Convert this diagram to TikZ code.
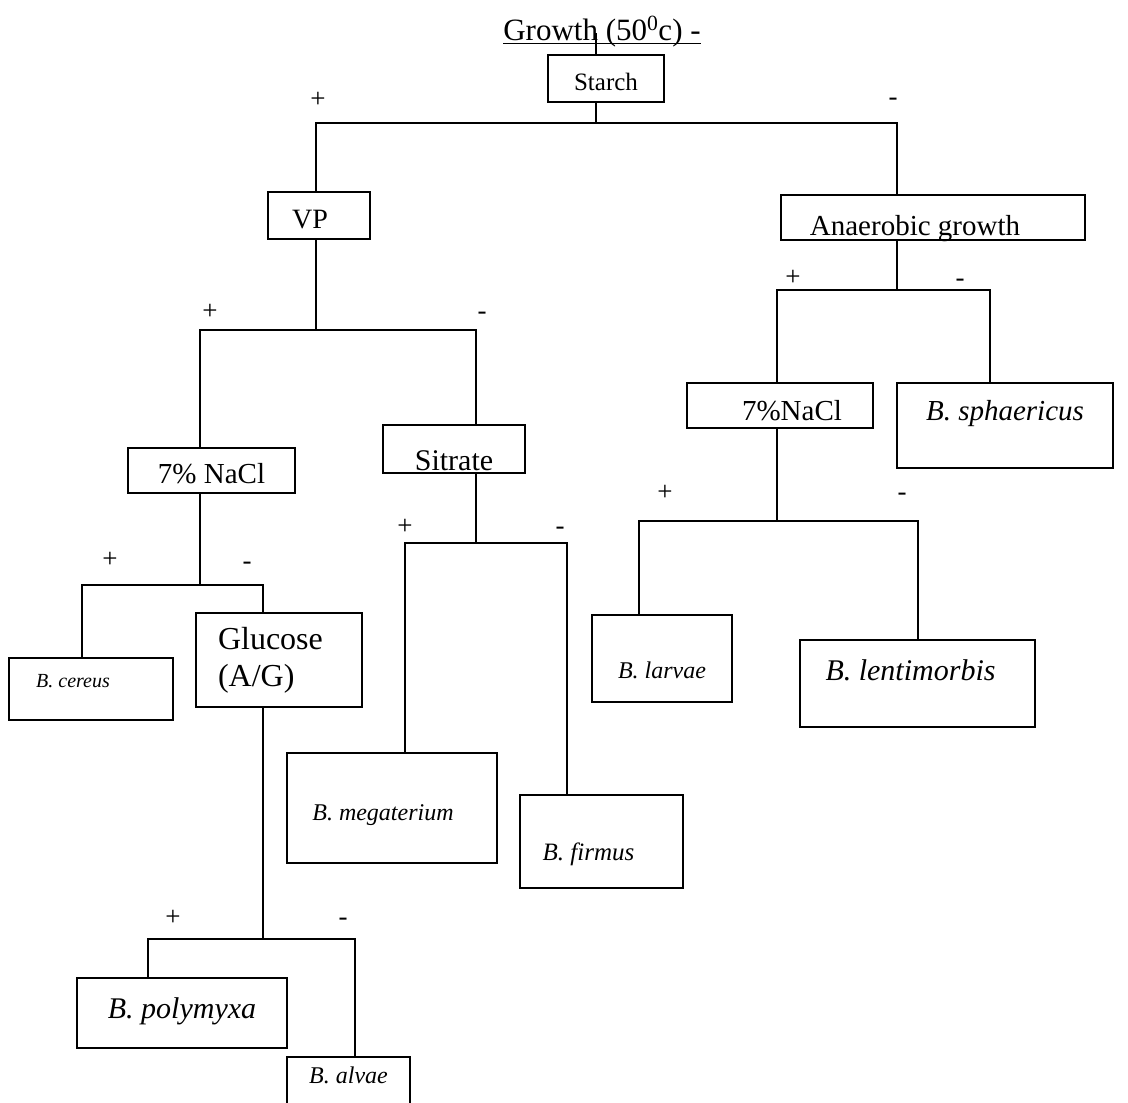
\documentclass[tikz,border=0pt]{standalone}
\usepackage{fontspec}
\setmainfont{Liberation Serif}
\usetikzlibrary{positioning,calc}

\tikzset{
  box/.style={draw, line width=1.4pt, inner sep=0pt},
  species/.style={box, font=\fontsize{#1}{#1}\selectfont\itshape},
  test/.style={box, font=\fontsize{#1}{#1}\selectfont},
  sink/.style={text height=#1, text depth=0pt},
  lift/.style={text height=0pt, text depth=#1},
  sign/.style={inner sep=0pt, font=\fontsize{27}{27}\selectfont},
  branch/.style={line width=1.4pt},
  heading/.style={anchor=base, inner sep=0pt, font=\fontsize{31}{34}\selectfont}
}

\begin{document}
\begin{tikzpicture}[x=1pt,y=-1pt]
        \useasboundingbox (0,0) rectangle (1128,1103);

        % Title
        \node[heading] (growth) at (602,40) {Growth (50\textsuperscript{0}c) -};
        \draw[line width=1pt] ([yshift=-3pt]growth.base west) -- ([yshift=-3pt]growth.base east);

        % Tests
        \node[test=25, sink=23pt, minimum width=116pt, minimum height=47pt] (starch) at (606,78.5) {Starch};
        \node[test=28, sink=25pt, minimum width=102pt, minimum height=47pt] (vp) at (319,215.5) {VP\kern18pt};
        \node[test=29, sink=35pt, minimum width=304pt, minimum height=45pt] (anaer) at (933,217.5) {Anaerobic growth\kern36pt};
        \node[test=29, sink=25pt, minimum width=167pt, minimum height=45pt] (naclL) at (211.5,470.5) {7\% NaCl};
        \node[test=30, sink=42pt, minimum width=142pt, minimum height=48pt] (sitrate) at (454,449) {Sitrate};
        \node[test=29, sink=29pt, minimum width=186pt, minimum height=45pt] (naclR) at (780,405.5) {\kern24pt7\%NaCl};
        \node[box, font=\fontsize{32}{37}\selectfont, align=left, text width=122pt,
              minimum width=166pt, minimum height=94pt] (glucose) at (279,660) {Glucose\\(A/G)};

        % Species
        \node[species=29, lift=11pt, minimum width=216pt, minimum height=85pt] (sphaer) at (1005,425.5) {B. sphaericus};
        \node[species=20, lift=4pt, minimum width=164pt, minimum height=62pt] (cereus) at (91,689) {B. cereus\kern36pt};
        \node[species=24, sink=39pt, minimum width=140pt, minimum height=87pt] (larvae) at (662,658.5) {B. larvae};
        \node[species=30, lift=7pt, minimum width=235pt, minimum height=87pt] (lentim) at (917.5,683.5) {B. lentimorbis\kern14pt};
        \node[species=24, sink=24pt, minimum width=210pt, minimum height=110pt] (megat) at (392,808) {B. megaterium\kern18pt};
        \node[species=25, sink=37pt, minimum width=163pt, minimum height=93pt] (firmus) at (601.5,841.5) {B. firmus\kern26pt};
        \node[species=30, sink=10pt, minimum width=210pt, minimum height=70pt] (polym) at (182,1013) {B. polymyxa};
        \node[species=24, lift=1pt, minimum width=123pt, minimum height=53pt] (alvae) at (348.5,1083.5) {B. alvae};

        % Title stem
        \coordinate (gStem) at (596,33);
        \draw[branch] (gStem) -- (starch.north -| gStem);

        % Starch split
        \coordinate (sM) at (596,123);
        \coordinate (sL) at (316,123);
        \coordinate (sR) at (897,123);
        \draw[branch] (starch.south -| sM) -- (sM);
        \draw[branch] (vp.north -| sL) -- (sL) -- (sR) -- (anaer.north -| sR);
        \node[sign] (pStarch) at (318,100) {+};
        \node[sign] (mStarch) at (893,102) {-};

        % VP split
        \coordinate (vM) at (316,330);
        \coordinate (vL) at (200,330);
        \coordinate (vR) at (476,330);
        \draw[branch] (vp.south -| vM) -- (vM);
        \draw[branch] (naclL.north -| vL) -- (vL) -- (vR) -- (sitrate.north -| vR);
        \node[sign] (pVP) at (210,312) {+};
        \node[sign] (mVP) at (482,316) {-};

        % 7% NaCl split (left)
        \coordinate (nM) at (200,585);
        \coordinate (nL) at (82,585);
        \coordinate (nR) at (263,585);
        \draw[branch] (naclL.south -| nM) -- (nM);
        \draw[branch] (cereus.north -| nL) -- (nL) -- (nR) -- (glucose.north -| nR);
        \node[sign] (pNaclL) at (110,560) {+};
        \node[sign] (mNaclL) at (247,566) {-};

        % Glucose split
        \coordinate (gM) at (263,939);
        \coordinate (gL) at (148,939);
        \coordinate (gR) at (355,939);
        \draw[branch] (glucose.south -| gM) -- (gM);
        \draw[branch] (polym.north -| gL) -- (gL) -- (gR) -- (alvae.north -| gR);
        \node[sign] (pGluc) at (173,918) {+};
        \node[sign] (mGluc) at (343,922) {-};

        % Sitrate split
        \coordinate (tM) at (476,543);
        \coordinate (tL) at (405,543);
        \coordinate (tR) at (567,543);
        \draw[branch] (sitrate.south -| tM) -- (tM);
        \draw[branch] (megat.north -| tL) -- (tL) -- (tR) -- (firmus.north -| tR);
        \node[sign] (pSit) at (405,527) {+};
        \node[sign] (mSit) at (560,531) {-};

        % Anaerobic split
        \coordinate (aM) at (897,290);
        \coordinate (aL) at (777,290);
        \coordinate (aR) at (990,290);
        \draw[branch] (anaer.south -| aM) -- (aM);
        \draw[branch] (naclR.north -| aL) -- (aL) -- (aR) -- (sphaer.north -| aR);
        \node[sign] (pAna) at (793,278) {+};
        \node[sign] (mAna) at (960,283) {-};

        % 7% NaCl split (right)
        \coordinate (rM) at (777,521);
        \coordinate (rL) at (639,521);
        \coordinate (rR) at (918,521);
        \draw[branch] (naclR.south -| rM) -- (rM);
        \draw[branch] (larvae.north -| rL) -- (rL) -- (rR) -- (lentim.north -| rR);
        \node[sign] (pNaclR) at (665,493) {+};
        \node[sign] (mNaclR) at (902,497) {-};

    \end{tikzpicture}
\end{document}
